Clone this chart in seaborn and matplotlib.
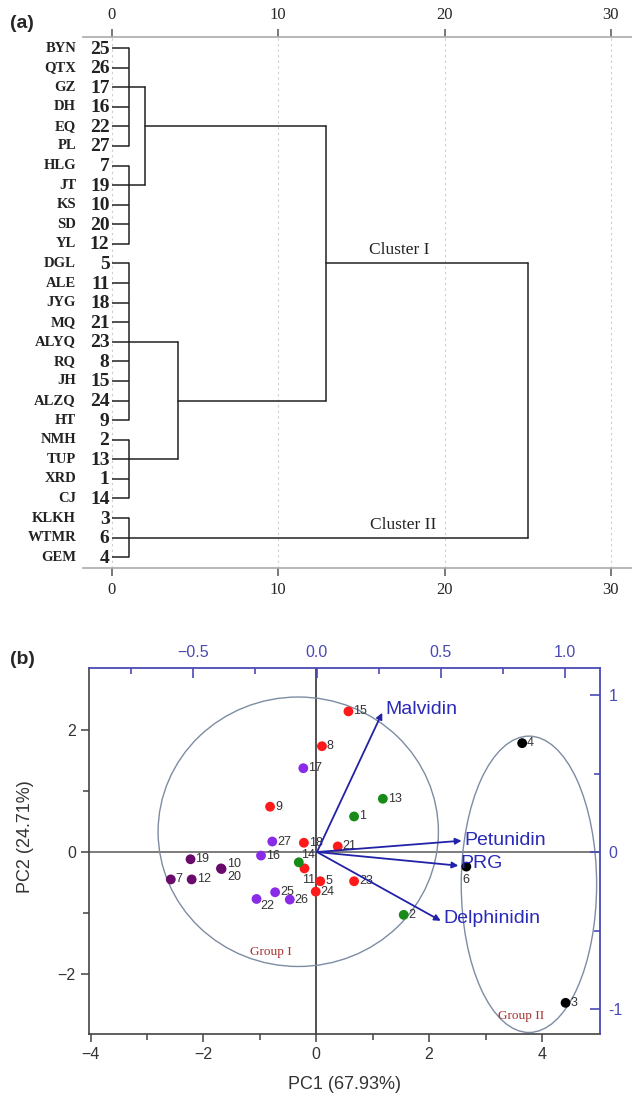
import numpy as np
import pandas as pd
import matplotlib
matplotlib.use("Agg")
import matplotlib.pyplot as plt
import seaborn as sns
from matplotlib.patches import Ellipse
from matplotlib.ticker import FixedLocator, MultipleLocator

# ---------------- data: dendrogram (a) ----------------
leaf_names = ["BYN", "QTX", "GZ", "DH", "EQ", "PL", "HLG", "JT", "KS", "SD", "YL",
              "DGL", "ALE", "JYG", "MQ", "ALYQ", "RQ", "JH", "ALZQ", "HT",
              "NMH", "TUP", "XRD", "CJ", "KLKH", "WTMR", "GEM"]
leaf_ids = [25, 26, 17, 16, 22, 27, 7, 19, 10, 20, 12, 5, 11, 18, 21, 23, 8, 15, 24, 9,
            2, 13, 1, 14, 3, 6, 4]
# first-level clusters: first leaf, last leaf, connector leaf, rescaled distance
base_first = [0, 6, 11, 20, 24]
base_last = [5, 10, 19, 23, 26]
base_link = [2, 7, 15, 21, 25]
base_dist = [1.0, 1.0, 1.0, 1.0, 1.0]
# higher merges: child nodes, rescaled distance, connector leaf
merge_a = [0, 2, 5, 7]
merge_b = [1, 3, 6, 4]
merge_dist = [2.0, 3.97, 12.9, 25.0]
merge_link = [4, 18, 11, 18]
dendro_ticks = [0, 10, 20, 30]
cluster_labels = ["Cluster I", "Cluster II"]

# ---------------- data: PCA biplot (b) ----------------
sample_ids = [15, 8, 9, 18, 21, 11, 5, 24, 23,
              1, 13, 14, 2,
              17, 27, 16, 25, 22, 26,
              19, 10, 20, 7, 12,
              4, 6, 3]
pc1 = [0.57, 0.10, -0.82, -0.22, 0.38, -0.21, 0.07, -0.01, 0.67,
       0.67, 1.18, -0.31, 1.55,
       -0.23, -0.78, -0.98, -0.73, -1.06, -0.47,
       -2.23, -1.69, -1.68, -2.58, -2.21,
       3.65, 2.66, 4.42]
pc2 = [2.30, 1.73, 0.74, 0.15, 0.09, -0.27, -0.48, -0.65, -0.48,
       0.58, 0.87, -0.17, -1.03,
       1.37, 0.17, -0.06, -0.66, -0.77, -0.78,
       -0.12, -0.27, -0.28, -0.45, -0.45,
       1.78, -0.24, -2.47]
groups = ["red"] * 9 + ["green"] * 4 + ["violet"] * 6 + ["purple"] * 5 + ["black"] * 3
variables = ["Malvidin", "Petunidin", "PRG", "Delphinidin"]
load_x = [0.263, 0.583, 0.570, 0.499]
load_y = [0.887, 0.072, -0.087, -0.438]
group_names = ["Group I", "Group II"]
ell_cx = [-0.32, 3.77]
ell_cy = [0.33, -0.53]
ell_w = [4.97, 2.40]
ell_h = [4.41, 4.85]
pc1_label = "PC1 (67.93%)"
pc2_label = "PC2 (24.71%)"

# ---------------- style ----------------
sns.set_theme(style="white")
plt.rcParams["font.family"] = ["Liberation Sans", "DejaVu Sans"]
SERIF = ["Liberation Serif", "DejaVu Serif"]

fig = plt.figure(figsize=(6.32, 10.95), dpi=100)
W, H = 632.0, 1095.0

# ======================= panel (a) =======================
axa = fig.add_axes([83 / W, 1 - 568 / H, (632 - 83) / W, (568 - 36.7) / H])
axa.set_xlim(-1.74, 31.27)
axa.set_ylim(26.55, -0.58)
lc = "#222222"
lw = 1.1
for f, l, d in zip(base_first, base_last, base_dist):
    for r in range(f, l + 1):
        axa.plot([0, d], [r, r], color=lc, lw=lw, solid_capstyle="butt")
    axa.plot([d, d], [f, l], color=lc, lw=lw)
node_row = list(base_link)
node_dist = list(base_dist)
for a, b, d, lk in zip(merge_a, merge_b, merge_dist, merge_link):
    for c in (a, b):
        axa.plot([node_dist[c], d], [node_row[c], node_row[c]], color=lc, lw=lw)
    axa.plot([d, d], [node_row[a], node_row[b]], color=lc, lw=lw)
    node_row.append(lk)
    node_dist.append(d)

for i, (nm, idn) in enumerate(zip(leaf_names, leaf_ids)):
    axa.text(-2.16, i, nm, ha="right", va="center", fontsize=10.5, fontweight="bold",
             family=SERIF, color="#222222", clip_on=False)
    axa.text(-0.15, i + 0.05, str(idn), ha="right", va="center", fontsize=14, fontweight="bold",
             family=SERIF, color="#222222", clip_on=False)

axa.text(17.3, 10.3, cluster_labels[0], ha="center", va="center", fontsize=12.5,
         family=SERIF, color="#222222")
axa.text(17.5, 24.35, cluster_labels[1], ha="center", va="center", fontsize=12.5,
         family=SERIF, color="#222222")

for s in ("left", "right"):
    axa.spines[s].set_visible(False)
for s in ("top", "bottom"):
    axa.spines[s].set_color("#aaaaaa")
    axa.spines[s].set_linewidth(1.2)
axa.set_xticks(dendro_ticks)
axa.set_yticks([])
axa.tick_params(axis="x", which="both", top=True, bottom=True, labeltop=True, labelbottom=True,
                direction="out", length=6, width=1.1, color="#555555", labelsize=12, pad=4)
for t in axa.get_xticklabels():
    t.set_family(SERIF)
for x in dendro_ticks:
    axa.axvline(x, color="#cccccc", lw=0.8, ls=(0, (2, 3)), zorder=0)
fig.text(10 / W, 1 - 24 / H, "(a)", ha="left", va="center", fontsize=14, fontweight="bold")

# ======================= panel (b) =======================
pos_b = [89 / W, 1 - 1034 / H, (600 - 89) / W, (1034 - 668) / H]
axb = fig.add_axes(pos_b)
axb.set_xlim(-4.03, 5.03)
axb.set_ylim(-2.98, 3.01)

df = pd.DataFrame({"pc1": pc1, "pc2": pc2, "grp": groups, "id": sample_ids})
palette = {"red": "#ff1a1a", "green": "#178a17", "violet": "#8a2be8",
           "purple": "#6a0a6a", "black": "#000000"}
axb.axvline(0, color="#333333", lw=1.2, zorder=1)
axb.axhline(0, color="#666666", lw=1.2, zorder=1)
for cx, cy, w, h in zip(ell_cx, ell_cy, ell_w, ell_h):
    axb.add_patch(Ellipse((cx, cy), w, h, fill=False, edgecolor="#7d8ca3", lw=1.0, zorder=2))
sns.scatterplot(data=df, x="pc1", y="pc2", hue="grp", palette=palette, s=50,
                linewidth=0, legend=False, ax=axb, zorder=4)

px = 0.72  # points per pixel
offsets = {6: (0, -13, "center"), 10: (6, 4, "left"), 20: (6, -8, "left"),
           11: (4, -12, "center"), 14: (2, 7, "left"), 22: (4, -7, "left")}
for x, y, i in zip(pc1, pc2, sample_ids):
    dx, dy, ha = offsets.get(i, (5, 0, "left"))
    axb.annotate(str(i), (x, y), xytext=(dx * px, dy * px), textcoords="offset points",
                 ha=ha, va="center", fontsize=9, color="#333333", zorder=5)

axb.text(-0.80, -1.63, group_names[0], ha="center", va="center", fontsize=9.5,
         family=SERIF, color="#a83232")
axb.text(3.64, -2.68, group_names[1], ha="center", va="center", fontsize=9.5,
         family=SERIF, color="#a83232")

for s in ("top", "right"):
    axb.spines[s].set_visible(False)
for s in ("left", "bottom"):
    axb.spines[s].set_color("#444444")
    axb.spines[s].set_linewidth(1.2)
axb.xaxis.set_major_locator(FixedLocator([-4, -2, 0, 2, 4]))
axb.xaxis.set_minor_locator(FixedLocator([-3, -1, 1, 3]))
axb.yaxis.set_major_locator(FixedLocator([-2, 0, 2]))
axb.yaxis.set_minor_locator(FixedLocator([-1, 1]))
axb.set_xticklabels(["\u22124", "\u22122", "0", "2", "4"])
axb.set_yticklabels(["\u22122", "0", "2"])
axb.tick_params(axis="both", which="major", direction="out", length=6, width=1.1,
                color="#444444", labelsize=11.5, labelcolor="#333333", left=True, bottom=True)
axb.tick_params(axis="both", which="minor", direction="out", length=4, width=1.1,
                color="#444444", left=True, bottom=True)
axb.set_xlabel(pc1_label, fontsize=13, color="#333333", labelpad=10)
axb.set_ylabel("")
fig.text(25.5 / W, 1 - 837 / H, pc2_label, rotation=90, ha="center", va="center",
         fontsize=13, color="#333333")

# loading overlay axes (top / right, blue)
blue = "#4a4ab4"
axl = fig.add_axes(pos_b, facecolor="none")
axl.set_xlim(-0.919, 1.141)
axl.set_ylim(-1.159, 1.172)
for s in ("left", "bottom"):
    axl.spines[s].set_visible(False)
for s in ("top", "right"):
    axl.spines[s].set_color(blue)
    axl.spines[s].set_linewidth(1.3)
axl.xaxis.tick_top()
axl.yaxis.tick_right()
axl.xaxis.set_major_locator(FixedLocator([-0.5, 0.0, 0.5, 1.0]))
axl.xaxis.set_minor_locator(FixedLocator([-0.75, -0.25, 0.25, 0.75]))
axl.yaxis.set_major_locator(FixedLocator([-1, 0, 1]))
axl.yaxis.set_minor_locator(FixedLocator([-0.5, 0.5]))
axl.set_xticklabels(["\u22120.5", "0.0", "0.5", "1.0"])
axl.set_yticklabels(["-1", "0", "1"])
axl.tick_params(axis="both", which="major", direction="in", length=7, width=1.2,
                color=blue, labelsize=11.5, labelcolor=blue, pad=6)
axl.tick_params(axis="both", which="minor", direction="in", length=4, width=1.2, color=blue)
axl.grid(False)

arrow_c = "#2222a8"
lab_off = [(3, 3), (3, 0), (2, 2), (3, 2)]
for vx, vy, name, (ox, oy) in zip(load_x, load_y, variables, lab_off):
    axl.annotate("", xy=(vx, vy), xytext=(0, 0),
                 arrowprops=dict(arrowstyle="-|>", color=arrow_c, lw=1.3,
                                 mutation_scale=9, shrinkA=0, shrinkB=0))
    axl.annotate(name, (vx, vy), xytext=(ox * px, oy * px), textcoords="offset points",
                 ha="left", va="center", fontsize=14, color="#2a2ab8")

fig.text(10 / W, 1 - 660 / H, "(b)", ha="left", va="center", fontsize=14, fontweight="bold")

fig.savefig("out.png", dpi=100)
